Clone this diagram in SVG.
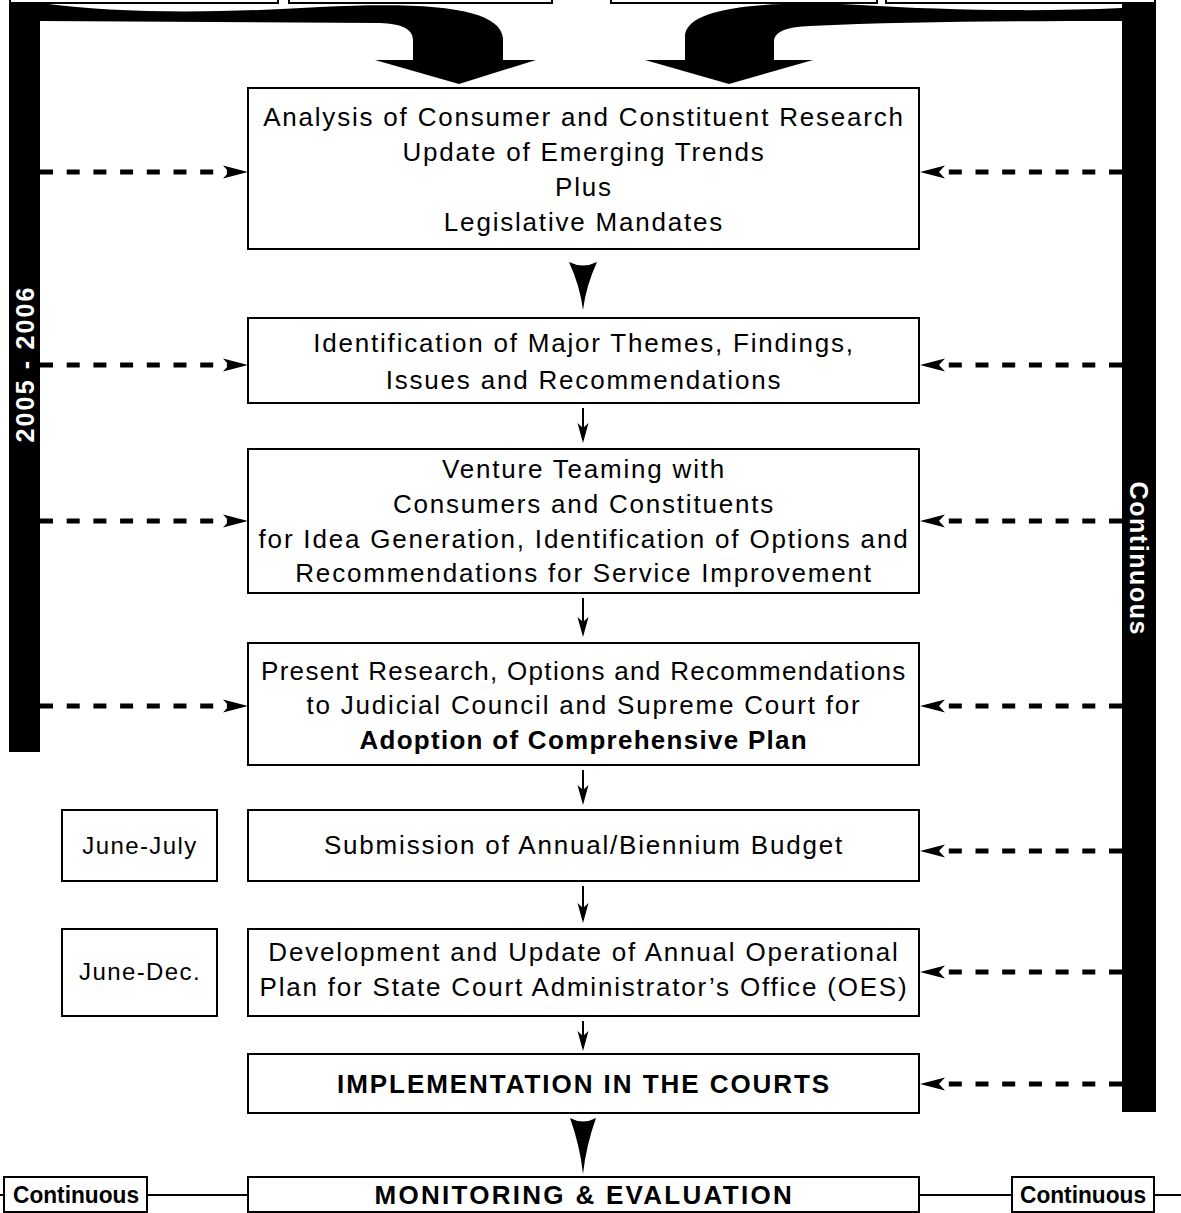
<svg xmlns="http://www.w3.org/2000/svg" width="1181" height="1213" viewBox="0 0 1181 1213">
<style>
.box{fill:#fff;stroke:#000;stroke-width:2}
.t{font-family:"Liberation Sans",Arial,sans-serif;font-size:26px;fill:#000;text-anchor:middle;letter-spacing:1.8px}
.s{font-size:24px;letter-spacing:1.4px}
.b{font-weight:bold}
.c{font-family:"Liberation Sans",Arial,sans-serif;font-size:23px;font-weight:bold;fill:#000;text-anchor:middle}
.bt{font-family:"Liberation Sans",Arial,sans-serif;font-size:25px;font-weight:bold;fill:#fff;text-anchor:middle}
.dash{stroke:#000;stroke-width:5;stroke-dasharray:13 13.7;fill:none}
.thin{stroke:#000;stroke-width:2;fill:none}
.blk{fill:#000;stroke:none}
</style>
<defs>
<path id="ahR" d="M0,0 L-25,-6.5 L-19,0 L-25,6.5 Z"/>
<path id="ahL" d="M0,0 L25,-6.5 L19,0 L25,6.5 Z"/>
<path id="ahD" d="M0,0 L-5.5,-20 L0,-15 L5.5,-20 Z"/>
</defs>

<g id="top-boxes">
<rect class="box" x="10" y="-40" width="268" height="43"/>
<rect class="box" x="289" y="-40" width="263" height="43"/>
<rect class="box" x="611" y="-40" width="266" height="43"/>
<rect class="box" x="886" y="-40" width="269" height="43"/>
</g>

<g id="bar-left">
<rect class="blk" x="9" y="3" width="31" height="749"/>
<text class="bt" transform="translate(24.5,365) rotate(-90)" y="9" textLength="155" lengthAdjust="spacing">2005 - 2006</text>
</g>
<g id="bar-right">
<rect class="blk" x="1122" y="4" width="34" height="1108"/>
<text class="bt" transform="translate(1139,558) rotate(90)" y="9" textLength="153" lengthAdjust="spacing">Continuous</text>
</g>

<g id="connectors">
<path class="blk" d="M40,3 C120,14 220,13 320,7 C440,1 500,10 503,38 L503,60 L536,60 L459,84 L375,60 L413,60 L413,40 Q413,24 380,23 L40,21 Z"/>
<path class="blk" d="M1122,8 C1040,12 940,10 860,5 C760,0 688,8 685,35 L685,60 L645,60 L729,84 L813,60 L774,60 L774,40 Q776,27 810,26 C900,22 1000,21 1122,21 Z"/>
<path class="blk" d="M569,262 Q583,269 597,262 Q586,286 583,310 Q580,286 569,262 Z"/>
<path class="blk" d="M570,1118 Q583,1125 596,1118 Q586,1146 583,1174 Q580,1146 570,1118 Z"/>
<path class="thin" d="M583,408 V428 M583,598 V622 M583,770 V790 M583,886 V908 M583,1021 V1036"/>
<use href="#ahD" x="583" y="443"/>
<use href="#ahD" x="583" y="637"/>
<use href="#ahD" x="583" y="805"/>
<use href="#ahD" x="583" y="923"/>
<use href="#ahD" x="583" y="1051"/>
<path class="dash" d="M40,172 H230 M40,365 H230 M40,521 H230 M40,706 H230"/>
<use href="#ahR" x="248" y="172"/>
<use href="#ahR" x="248" y="365"/>
<use href="#ahR" x="248" y="521"/>
<use href="#ahR" x="248" y="706"/>
<path class="dash" d="M1122,172 H938 M1122,365 H938 M1122,521 H938 M1122,706 H938 M1122,851 H938 M1122,972 H938 M1122,1084 H938"/>
<use href="#ahL" x="920" y="172"/>
<use href="#ahL" x="920" y="365"/>
<use href="#ahL" x="920" y="521"/>
<use href="#ahL" x="920" y="706"/>
<use href="#ahL" x="920" y="851"/>
<use href="#ahL" x="920" y="972"/>
<use href="#ahL" x="920" y="1084"/>
<path class="thin" d="M0,1195 H4 M147,1195 H248 M919,1195 H1012 M1154,1195 H1181"/>
</g>

<g id="n1">
<rect class="box" x="248" y="88" width="671" height="161"/>
<text class="t" x="584" y="126">Analysis of Consumer and Constituent Research</text>
<text class="t" x="584" y="161">Update of Emerging Trends</text>
<text class="t" x="584" y="196">Plus</text>
<text class="t" x="584" y="231">Legislative Mandates</text>
</g>
<g id="n2">
<rect class="box" x="248" y="318" width="671" height="85"/>
<text class="t" x="584" y="352">Identification of Major Themes, Findings,</text>
<text class="t" x="584" y="389">Issues and Recommendations</text>
</g>
<g id="n3">
<rect class="box" x="248" y="449" width="671" height="144"/>
<text class="t" x="584" y="478">Venture Teaming with</text>
<text class="t" x="584" y="513">Consumers and Constituents</text>
<text class="t" x="584" y="548">for Idea Generation, Identification of Options and</text>
<text class="t" x="584" y="582">Recommendations for Service Improvement</text>
</g>
<g id="n4">
<rect class="box" x="248" y="643" width="671" height="122"/>
<text class="t" x="584" y="680" textLength="646" lengthAdjust="spacing">Present Research, Options and Recommendations</text>
<text class="t" x="584" y="714">to Judicial Council and Supreme Court for</text>
<text class="t b" x="584" y="749" textLength="449" lengthAdjust="spacing">Adoption of Comprehensive Plan</text>
</g>
<g id="d1">
<rect class="box" x="62" y="810" width="155" height="71"/>
<text class="t s" x="140" y="854">June-July</text>
</g>
<g id="n5">
<rect class="box" x="248" y="810" width="671" height="71"/>
<text class="t" x="584" y="854">Submission of Annual/Biennium Budget</text>
</g>
<g id="d2">
<rect class="box" x="62" y="929" width="155" height="87"/>
<text class="t s" x="140" y="980">June-Dec.</text>
</g>
<g id="n6">
<rect class="box" x="248" y="929" width="671" height="87"/>
<text class="t" x="584" y="961">Development and Update of Annual Operational</text>
<text class="t" x="584" y="996">Plan for State Court Administrator’s Office (OES)</text>
</g>
<g id="n7">
<rect class="box" x="248" y="1054" width="671" height="59"/>
<text class="t b" x="584" y="1093" textLength="494" lengthAdjust="spacing">IMPLEMENTATION IN THE COURTS</text>
</g>
<g id="n8">
<rect class="box" x="248" y="1177" width="671" height="35"/>
<text class="t b" x="584" y="1204" textLength="419" lengthAdjust="spacing">MONITORING &amp; EVALUATION</text>
</g>
<g id="c1">
<rect class="box" x="4" y="1177" width="143" height="35"/>
<text class="c" x="76" y="1203" textLength="126" lengthAdjust="spacingAndGlyphs">Continuous</text>
</g>
<g id="c2">
<rect class="box" x="1012" y="1177" width="142" height="35"/>
<text class="c" x="1083" y="1203" textLength="126" lengthAdjust="spacingAndGlyphs">Continuous</text>
</g>
</svg>
